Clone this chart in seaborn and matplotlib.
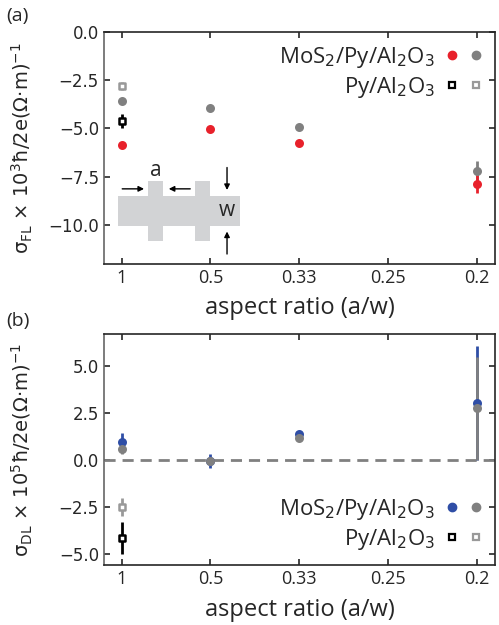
import seaborn as sns
import matplotlib.pyplot as plt
import numpy as np
from matplotlib.patches import Rectangle
from matplotlib.lines import Line2D
from matplotlib.legend_handler import HandlerTuple

# x positions are w/a, tick labels show a/w
w_over_a = [1, 2, 3, 5]
tick_pos = [1, 2, 3, 4, 5]
tick_labels = ['1', '0.5', '0.33', '0.25', '0.2']

# panel (a): field-like
fl_mos2_red = [-5.88, -5.02, -5.77, -7.85]
fl_mos2_red_err = [0.1, 0.08, 0.08, 0.5]
fl_mos2_gray = [-3.56, -3.92, -4.92, -7.2]
fl_mos2_gray_err = [0.1, 0.08, 0.08, 0.5]
fl_py_black, fl_py_black_err = [-4.6], [0.35]
fl_py_gray, fl_py_gray_err = [-2.8], [0.2]

# panel (b): damping-like
dl_mos2_blue = [0.96, -0.05, 1.4, 3.05]
dl_mos2_blue_err = [0.5, 0.35, 0.12, 3.05]
dl_mos2_gray = [0.6, -0.05, 1.2, 2.75]
dl_mos2_gray_err = [0.3, 0.22, 0.1, 2.75]
dl_py_black, dl_py_black_err = [-4.15], [0.85]
dl_py_gray, dl_py_gray_err = [-2.5], [0.5]

RED = '#e8212b'
GRAY = '#808080'
LGRAY = '#999999'
BLUE = '#2f4ea6'

sns.set_style('ticks')
plt.rcParams['font.family'] = ['DejaVu Sans']

fig = plt.figure(figsize=(4.99, 6.25), dpi=100)
ax1 = fig.add_axes([0.208, 0.578, 0.784, 0.371])
ax2 = fig.add_axes([0.208, 0.096, 0.784, 0.369])


def draw_series(ax, x, y, err, color, marker, filled=True, lw=2):
    ax.errorbar(x, y, yerr=err, fmt='none', ecolor=color, elinewidth=lw, capsize=0, zorder=2)
    if filled:
        sns.scatterplot(x=x, y=y, ax=ax, color=color, marker=marker, s=42,
                        edgecolor=color, linewidth=0, zorder=3)
    else:
        sns.scatterplot(x=x, y=y, ax=ax, color='white', marker=marker, s=20,
                        edgecolor=color, linewidth=1.8, zorder=3)


# panel (a)
draw_series(ax1, w_over_a, fl_mos2_gray, fl_mos2_gray_err, GRAY, 'o')
draw_series(ax1, w_over_a, fl_mos2_red, fl_mos2_red_err, RED, 'o')
draw_series(ax1, [1], fl_py_gray, fl_py_gray_err, LGRAY, 's', filled=False)
draw_series(ax1, [1], fl_py_black, fl_py_black_err, 'black', 's', filled=False)
ax1.set_ylim(-12, 0)
ax1.set_yticks([0, -2.5, -5, -7.5, -10])
ax1.set_ylabel('σ$_{\\rm FL}$ × 10$^3$ħ/2e(Ω·m)$^{-1}$', fontsize=14)

# hall bar sketch
gray_fill = '#d2d3d5'
for (x0, y0, w, h) in [(0.036, 0.164, 0.312, 0.129), (0.113, 0.099, 0.038, 0.259),
                       (0.233, 0.099, 0.038, 0.259)]:
    ax1.add_patch(Rectangle((x0, y0), w, h, transform=ax1.transAxes,
                            facecolor=gray_fill, edgecolor='none', zorder=1))
arr = dict(arrowstyle='-|>', color='black', lw=1, mutation_scale=8)
ax1.annotate('', xy=(0.110, 0.323), xytext=(0.040, 0.323), xycoords='axes fraction', arrowprops=arr)
ax1.annotate('', xy=(0.159, 0.323), xytext=(0.228, 0.323), xycoords='axes fraction', arrowprops=arr)
ax1.annotate('', xy=(0.315, 0.306), xytext=(0.315, 0.427), xycoords='axes fraction', arrowprops=arr)
ax1.annotate('', xy=(0.315, 0.151), xytext=(0.315, 0.030), xycoords='axes fraction', arrowprops=arr)
ax1.text(0.133, 0.40, 'a', transform=ax1.transAxes, fontsize=15, family='Open Sans',
         ha='center', va='center')
ax1.text(0.315, 0.228, 'w', transform=ax1.transAxes, fontsize=15, family='Open Sans',
         ha='center', va='center')

# panel (b)
ax2.axhline(0, color=GRAY, ls=(0, (4, 2.5)), lw=2, zorder=1)
draw_series(ax2, w_over_a, dl_mos2_blue, dl_mos2_blue_err, BLUE, 'o')
draw_series(ax2, w_over_a, dl_mos2_gray, dl_mos2_gray_err, GRAY, 'o')
draw_series(ax2, [1], dl_py_gray, dl_py_gray_err, LGRAY, 's', filled=False)
draw_series(ax2, [1], dl_py_black, dl_py_black_err, 'black', 's', filled=False)
ax2.set_ylim(-5.6, 6.7)
ax2.set_yticks([5, 2.5, 0, -2.5, -5])
ax2.set_ylabel('σ$_{\\rm DL}$ × 10$^5$ħ/2e(Ω·m)$^{-1}$', fontsize=14)

for ax, col, loc in [(ax1, RED, 'upper right'), (ax2, BLUE, 'lower right')]:
    ax.set_xlim(0.8, 5.2)
    ax.set_xticks(tick_pos)
    ax.set_xticklabels(tick_labels, family='Open Sans', fontsize=13)
    ax.set_xlabel('aspect ratio (a/w)', family='Open Sans', fontsize=17, labelpad=7)
    ax.tick_params(direction='in', top=True, right=True, length=4, width=1.2)
    ax.tick_params(axis='y', labelsize=12)
    ax.yaxis.set_label_coords(-0.175, 0.5)
    for s in ax.spines.values():
        s.set_linewidth(1.2)
    ax.spines['left'].set_color('#666666')
    h1 = (Line2D([], [], ls='none', marker='o', color=col, ms=6),
          Line2D([], [], ls='none', marker='o', color=GRAY, ms=6))
    h2 = (Line2D([], [], ls='none', marker='s', mfc='white', mec='black', mew=1.6, ms=4.5),
          Line2D([], [], ls='none', marker='s', mfc='white', mec=LGRAY, mew=1.6, ms=4.5))
    ax.legend([h1, h2], ['MoS$_2$/Py/Al$_2$O$_3$', 'Py/Al$_2$O$_3$'],
              handler_map={tuple: HandlerTuple(ndivide=None, pad=0.6)},
              loc=loc, frameon=False, markerfirst=False,
              prop={'family': 'Open Sans', 'size': 16}, handlelength=1.6,
              handletextpad=0.5, borderaxespad=0.2, labelspacing=0.2)

fig.text(0.012, 0.975, '(a)', fontsize=14, family='Open Sans', va='center')
fig.text(0.012, 0.487, '(b)', fontsize=14, family='Open Sans', va='center')

fig.savefig('out.png', dpi=100)
